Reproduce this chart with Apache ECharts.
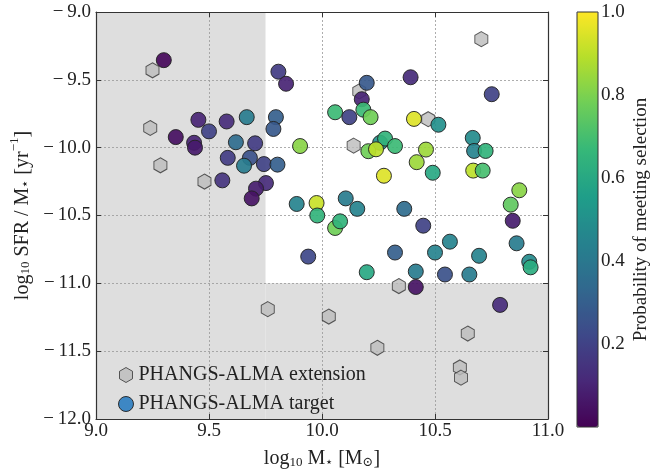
<!DOCTYPE html>
<html><head><meta charset="utf-8">
<script src="https://cdn.jsdelivr.net/npm/echarts@6/dist/echarts.min.js"></script>
<style>html,body{margin:0;padding:0;background:#fff}#c{width:663px;height:474px}</style>
</head><body><div id="c"></div>
<script>
// Extension galaxies (grey hexagons): [log10 M*, log10 sSFR]
const extMass = [9.25, 9.24, 9.285, 9.48, 9.76, 10.03, 10.14, 10.165, 10.47, 10.705, 10.34, 10.245, 10.645, 10.61, 10.615];
const extSSFR = [-9.43, -9.855, -10.13, -10.25, -11.19, -11.245, -9.985, -9.585, -9.79, -9.2, -11.02, -11.475, -11.37, -11.62, -11.695];
// Target galaxies (circles): mass, sSFR, probability of meeting selection
const tgtMass = [9.30, 9.453, 9.353, 9.50, 9.578, 9.667, 9.434, 9.438, 9.619, 9.704, 9.583, 9.681, 9.655, 9.743, 9.803, 9.559, 9.752, 9.708, 9.689, 9.807, 9.841, 9.796, 9.785, 9.903, 9.888, 9.976, 9.979, 9.939, 10.058, 10.08, 10.105, 10.156, 10.364, 10.448, 10.198, 10.176, 10.392, 10.751, 10.058, 10.121, 10.183, 10.215, 10.407, 10.515, 10.257, 10.279, 10.323, 10.205, 10.239, 10.46, 10.419, 10.49, 10.274, 10.667, 10.673, 10.724, 10.669, 10.711, 10.873, 10.835, 10.844, 10.323, 10.50, 10.566, 10.695, 10.861, 10.917, 10.923, 10.198, 10.415, 10.544, 10.652, 10.415, 10.788];
const tgtSSFR = [-9.355, -9.795, -9.922, -9.88, -9.807, -9.775, -9.964, -10.0, -9.96, -9.968, -10.075, -10.075, -10.133, -10.121, -10.125, -10.241, -10.261, -10.302, -10.374, -9.44, -9.529, -9.775, -9.862, -9.988, -10.415, -10.408, -10.50, -10.803, -10.592, -10.543, -10.374, -10.451, -10.451, -10.575, -9.522, -9.643, -9.481, -9.606, -9.739, -9.775, -9.72, -9.775, -9.788, -9.831, -9.964, -9.933, -9.988, -10.026, -10.012, -10.014, -10.107, -10.185, -10.207, -9.928, -10.024, -10.024, -10.169, -10.169, -10.314, -10.42, -10.539, -10.773, -10.773, -10.693, -10.797, -10.705, -10.841, -10.882, -10.918, -10.913, -10.935, -10.935, -11.027, -11.159];
const tgtProb = [0.02, 0.10, 0.04, 0.20, 0.12, 0.42, 0.10, 0.07, 0.35, 0.18, 0.18, 0.25, 0.42, 0.20, 0.30, 0.15, 0.12, 0.08, 0.05, 0.18, 0.10, 0.30, 0.28, 0.82, 0.45, 0.92, 0.65, 0.22, 0.78, 0.65, 0.42, 0.45, 0.35, 0.20, 0.28, 0.10, 0.12, 0.20, 0.68, 0.20, 0.68, 0.78, 0.95, 0.50, 0.50, 0.65, 0.68, 0.78, 0.90, 0.85, 0.85, 0.60, 0.95, 0.48, 0.45, 0.65, 0.90, 0.70, 0.82, 0.75, 0.08, 0.30, 0.45, 0.45, 0.45, 0.42, 0.48, 0.62, 0.60, 0.42, 0.25, 0.42, 0.05, 0.12];
// Selection cuts (white region = selected)
const massCut = 9.75;
const ssfrCut = -11.0;
const xTicks = [9.0, 9.5, 10.0, 10.5, 11.0];
const yTicks = [-12.0, -11.5, -11.0, -10.5, -10.0, -9.5, -9.0];
const cbTicks = [0.2, 0.4, 0.6, 0.8, 1.0];

const viridis = ['#440154','#482878','#3e4989','#31688e','#26828e','#1f9e89','#35b779','#6ece58','#b5de2b','#fde725'];
const hexPath = 'path://M0,-1 L0.866,-0.5 L0.866,0.5 L0,1 L-0.866,0.5 L-0.866,-0.5 Z';
const FONT = '"Liberation Serif", "DejaVu Serif", serif';
const fmt = v => (v < 0 ? '\u2212\u2009' : '') + Math.abs(v).toFixed(1);

const extData = extMass.map((m, i) => [m, extSSFR[i]]);
const tgtData = tgtMass.map((m, i) => [m, tgtSSFR[i], tgtProb[i]]);

const rich = {
  n: {fontFamily: FONT, fontSize: 20, color: '#222', lineHeight: 24, verticalAlign: 'bottom'},
  s: {fontFamily: FONT, fontSize: 13, color: '#222', lineHeight: 17, verticalAlign: 'bottom'},
  p: {fontFamily: FONT, fontSize: 13, color: '#222', lineHeight: 17, verticalAlign: 'top'}
};

const chart = echarts.init(document.getElementById('c'), null, {renderer: 'canvas'});
const axisLine = {show: true, lineStyle: {color: '#333', width: 1.2}};
const tickIn = {show: true, inside: true, length: 5, lineStyle: {color: '#333'}};
const TICKFONT = 19;
chart.setOption({
  animation: false,
  textStyle: {fontFamily: FONT},
  grid: [
    {left: 96, right: 115, top: 12, bottom: 46, containLabel: false},
    {left: 577, width: 21, top: 12, height: 415}
  ],
  xAxis: [
    {type: 'value', gridIndex: 0, min: 9, max: 11, interval: 0.5, position: 'bottom',
     axisLine, axisTick: tickIn,
     axisLabel: {fontFamily: FONT, fontSize: TICKFONT, color: '#222', margin: 3, formatter: v => xTicks.includes(v) ? v.toFixed(1) : ''},
     splitLine: {show: true, lineStyle: {color: '#999', type: [2, 2], width: 0.8}},
     name: '{n|log}{s|10}{n| M}{s|\u22C6}{n| [M}{s|\u2299}{n|]}', nameLocation: 'middle', nameGap: 26,
     nameTextStyle: {rich}},
    {type: 'value', gridIndex: 0, min: 9, max: 11, interval: 0.5, position: 'top',
     axisLine, axisTick: tickIn, axisLabel: {show: false}, splitLine: {show: false}},
    {type: 'value', gridIndex: 1, min: 0, max: 1, show: false}
  ],
  yAxis: [
    {type: 'value', gridIndex: 0, min: -12, max: -9, interval: 0.5, position: 'left',
     axisLine, axisTick: tickIn,
     axisLabel: {fontFamily: FONT, fontSize: TICKFONT, color: '#222', margin: 5, formatter: v => yTicks.includes(v) ? fmt(v) : ''},
     splitLine: {show: true, lineStyle: {color: '#999', type: [2, 2], width: 0.8}},
     name: '{n|log}{s|10}{n| SFR / M}{s|\u22C6}{n| [yr}{p|\u22121}{n|]}', nameLocation: 'middle', nameGap: 51, nameRotate: 90,
     nameTextStyle: {rich}},
    {type: 'value', gridIndex: 0, min: -12, max: -9, interval: 0.5, position: 'right',
     axisLine, axisTick: tickIn, axisLabel: {show: false}, splitLine: {show: false}},
    {type: 'value', gridIndex: 1, min: 0, max: 1, interval: 0.2, position: 'right',
     axisLine: {show: false}, axisTick: {show: false}, splitLine: {show: false},
     axisLabel: {fontFamily: FONT, fontSize: TICKFONT, color: '#222', margin: 3, formatter: v => cbTicks.some(t => Math.abs(t - v) < 1e-9) ? v.toFixed(1) : ''},
     name: 'Probability of meeting selection', nameLocation: 'middle', nameGap: 34, nameRotate: 90,
     nameTextStyle: {fontFamily: FONT, fontSize: 19, color: '#222'}}
  ],
  visualMap: {
    type: 'continuous', seriesIndex: 2, dimension: 2, min: 0, max: 1,
    calculable: false, show: true, left: 577, top: 12, itemWidth: 21, itemHeight: 415,
    padding: 0, text: null, showLabel: false, hoverLink: false,
    inRange: {color: viridis}
  },
  legend: {
    left: 113, top: 360, orient: 'vertical', itemGap: 9, itemWidth: 15, itemHeight: 15,
    textStyle: {fontFamily: FONT, fontSize: 20, color: '#222'},
    data: [
      {name: 'PHANGS-ALMA extension', icon: hexPath, itemStyle: {color: '#bcbcbc', borderColor: '#333', borderWidth: 1}},
      {name: 'PHANGS-ALMA target', icon: 'circle', itemStyle: {color: '#2f7fc1', borderColor: '#222', borderWidth: 1}}
    ]
  },
  graphic: [
    {type: 'rect', shape: {x: 577, y: 12, width: 21, height: 415}, style: {fill: 'none', stroke: '#333', lineWidth: 1}, z: 100}
  ],
  series: [
    {name: 'region', type: 'scatter', xAxisIndex: 0, yAxisIndex: 0, data: [], z: -1, silent: true,
     markArea: {silent: true, z: -1, itemStyle: {color: '#dedede', opacity: 1},
       data: [
         [{coord: [xTicks[0], yTicks[0]]}, {coord: [massCut, yTicks[yTicks.length - 1]]}],
         [{coord: [massCut, yTicks[0]]}, {coord: [xTicks[xTicks.length - 1], ssfrCut]}]
       ]}},
    {name: 'PHANGS-ALMA extension', type: 'scatter', xAxisIndex: 0, yAxisIndex: 0, data: extData,
     symbol: hexPath, symbolSize: [13, 15], z: 3,
     itemStyle: {color: '#bcbcbc', borderColor: '#333', borderWidth: 1}},
    {name: 'PHANGS-ALMA target', type: 'scatter', xAxisIndex: 0, yAxisIndex: 0, data: tgtData,
     symbol: 'circle', symbolSize: 15, z: 4,
     itemStyle: {borderColor: '#222', borderWidth: 1, opacity: 0.92}}
  ]
});
</script></body></html>
